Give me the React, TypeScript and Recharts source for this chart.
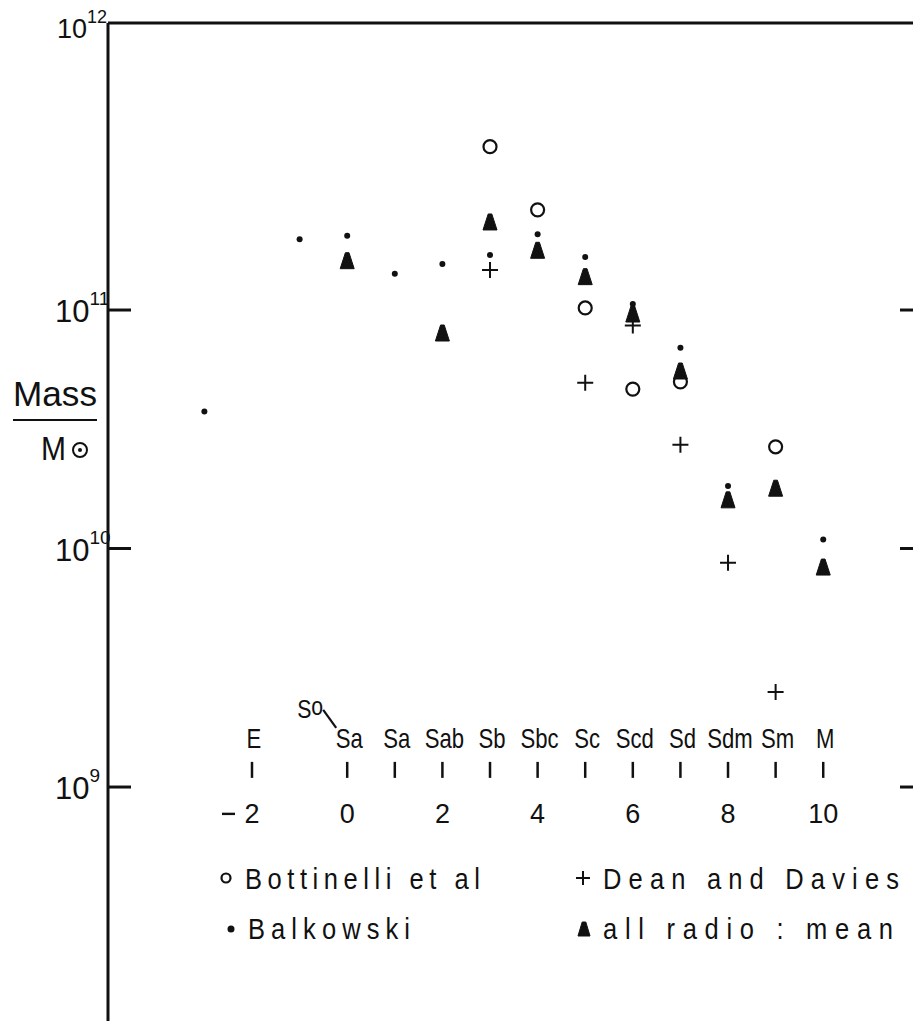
import { ScatterChart, Scatter, XAxis, YAxis, ReferenceLine } from 'recharts';

const FONT = '"Liberation Sans", Arial, sans-serif';
const INK = '#111';

// Hubble type sequence drawn along the lower part of the plot
const typeCodes = [-2, 0, 1, 2, 3, 4, 5, 6, 7, 8, 9, 10];
const typeNames = ['E', 'Sa', 'Sa', 'Sab', 'Sb', 'Sbc', 'Sc', 'Scd', 'Sd', 'Sdm', 'Sm', 'M'];
const typeNumbers = ['2', '0', '', '2', '', '4', '', '6', '', '8', '', '10'];
const typeRowMass = 1.18e9;

// Bottinelli et al (open circles)
const bottinelliT = [3, 4, 5, 6, 7, 9];
const bottinelliMass = [4.84e11, 2.63e11, 1.02e11, 4.66e10, 5.0e10, 2.67e10];

// Balkowski (dots)
const balkowskiT = [-3, -1, 0, 1, 2, 3, 4, 5, 6, 7, 8, 10];
const balkowskiMass = [
  3.75e10, 1.98e11, 2.05e11, 1.42e11, 1.56e11, 1.7e11, 2.08e11, 1.67e11, 1.06e11, 6.95e10,
  1.83e10, 1.09e10,
];

// Dean and Davies (plus signs)
const deanT = [3, 5, 6, 7, 8, 9];
const deanMass = [1.47e11, 4.96e10, 8.61e10, 2.72e10, 8.72e9, 2.5e9];

// all radio : mean (filled triangles)
const radioT = [0, 2, 3, 4, 5, 6, 7, 8, 9, 10];
const radioMass = [1.61e11, 8.01e10, 2.34e11, 1.78e11, 1.38e11, 9.62e10, 5.55e10, 1.6e10, 1.79e10, 8.36e9];

const massTicks = [1e9, 1e10, 1e11];
const massDomain = [Math.pow(10, 8.019), Math.pow(10, 12.2034)];
const typeDomain = [-5.025, 11.886];

const PLOT_RIGHT = 913;

const toPoints = (ts: number[], ms: number[]) => ts.map((t, i) => ({ t, mass: ms[i] }));

const typeRow = typeCodes.map((t, i) => ({
  t,
  mass: typeRowMass,
  name: typeNames[i],
  num: typeNumbers[i],
  negative: t < 0,
  prefix: t === 0,
}));

const OpenCircle = ({ cx, cy, r = 6.5 }: any) => (
  <circle cx={cx} cy={cy} r={r} fill="none" stroke={INK} strokeWidth={2.2} />
);
const Dot = ({ cx, cy, r = 3 }: any) => <circle cx={cx} cy={cy} r={r} fill={INK} />;
const Plus = ({ cx, cy, s = 8 }: any) => (
  <path d={`M${cx - s},${cy}H${cx + s}M${cx},${cy - s}V${cy + s}`} stroke={INK} strokeWidth={2} />
);
const Triangle = ({ cx, cy, w = 7, h = 8 }: any) => (
  <path
    d={`M${cx - 1.8},${cy - h} L${cx + 1.8},${cy - h} L${cx + w},${cy + h} L${cx - w},${cy + h} Z`}
    fill={INK}
    stroke={INK}
    strokeWidth={1}
    strokeLinejoin="round"
  />
);

const TypeTick = (props: any) => {
  const { cx, cy, payload } = props;
  return (
    <g fill={INK} fontFamily={FONT}>
      <line x1={cx} x2={cx} y1={cy - 8} y2={cy + 8} stroke={INK} strokeWidth={2.5} />
      {/* tall, condensed lettering */}
      <text
        transform={`translate(${cx + 2},${cy - 22}) scale(0.82,1)`}
        textAnchor="middle"
        fontSize={27}
      >
        {payload.name}
      </text>
      {payload.prefix && (
        <g>
          <text transform={`translate(${cx - 50},${cy - 52}) scale(0.85,1)`} fontSize={25}>
            S<tspan dy={-3}>o</tspan>
          </text>
          <line x1={cx - 24} y1={cy - 60} x2={cx - 11} y2={cy - 42} stroke={INK} strokeWidth={2.2} />
        </g>
      )}
      {payload.num && (
        <text x={cx} y={cy + 53} textAnchor="middle" fontSize={27}>
          {payload.num}
        </text>
      )}
      {payload.negative && (
        <line x1={cx - 30} x2={cx - 17} y1={cy + 44} y2={cy + 44} stroke={INK} strokeWidth={2.4} />
      )}
    </g>
  );
};

// left labels with inward ticks on both sides of the frame
const MassTick = ({ x, y, payload }: any) => {
  const exp = Math.round(Math.log10(payload.value));
  return (
    <g fontFamily={FONT} fill={INK}>
      <line x1={x} x2={x + 23} y1={y} y2={y} stroke={INK} strokeWidth={3} />
      <line x1={PLOT_RIGHT - 13} x2={PLOT_RIGHT} y1={y} y2={y} stroke={INK} strokeWidth={3} />
      <text x={55} y={y + 12} fontSize={31}>
        10
        <tspan fontSize={19} dy={-17}>
          {exp}
        </tspan>
      </text>
    </g>
  );
};

// key entry: condensed lettering stretched to the width seen in the figure
const KeyText = ({ x, y, width, children }: any) => (
  <text
    transform={`translate(${x},${y}) scale(0.85,1)`}
    fontSize={30}
    textLength={width / 0.85}
    lengthAdjust="spacing"
  >
    {children}
  </text>
);

export default function App() {
  return (
    <div style={{ position: 'absolute', left: 0, top: 0, width: 913, height: 1021, background: '#fff' }}>
      <ScatterChart width={913} height={1021} margin={{ top: 23, right: 0, bottom: 0, left: 0 }}>
        <XAxis type="number" dataKey="t" domain={typeDomain} allowDataOverflow hide height={0} />
        <YAxis
          yAxisId="l"
          type="number"
          dataKey="mass"
          scale="log"
          domain={massDomain}
          allowDataOverflow
          ticks={massTicks}
          interval={0}
          width={108}
          tickSize={0}
          tickMargin={0}
          tickLine={false}
          axisLine={{ stroke: INK, strokeWidth: 3 }}
          tick={<MassTick />}
        />
        <ReferenceLine yAxisId="l" y={massDomain[1]} stroke={INK} strokeWidth={3} ifOverflow="visible" />
        <Scatter yAxisId="l" data={typeRow} shape={TypeTick} isAnimationActive={false} />
        <Scatter yAxisId="l" data={toPoints(bottinelliT, bottinelliMass)} shape={OpenCircle} isAnimationActive={false} />
        <Scatter yAxisId="l" data={toPoints(deanT, deanMass)} shape={Plus} isAnimationActive={false} />
        <Scatter yAxisId="l" data={toPoints(radioT, radioMass)} shape={Triangle} isAnimationActive={false} />
        <Scatter yAxisId="l" data={toPoints(balkowskiT, balkowskiMass)} shape={Dot} isAnimationActive={false} />
      </ScatterChart>

      {/* axis title, top label and key */}
      <svg
        width={913}
        height={1021}
        style={{ position: 'absolute', left: 0, top: 0, pointerEvents: 'none' }}
        fontFamily={FONT}
        fill={INK}
      >
        <text x={57} y={38} fontSize={27}>
          10
          <tspan fontSize={18} dy={-15}>
            12
          </tspan>
        </text>

        <text x={13} y={406} fontSize={35} textLength={84} lengthAdjust="spacingAndGlyphs">
          Mass
        </text>
        <line x1={13} x2={97} y1={420} y2={420} stroke={INK} strokeWidth={2} />
        <text x={41} y={460} fontSize={34} textLength={25} lengthAdjust="spacingAndGlyphs">
          M
        </text>
        <circle cx={80} cy={450} r={7} fill="none" stroke={INK} strokeWidth={2} />
        <circle cx={80} cy={450} r={2} fill={INK} />

        <OpenCircle cx={226} cy={878} r={4.5} />
        <KeyText x={245} y={889} width={235}>Bottinelli et al</KeyText>
        <Plus cx={583} cy={878} s={7} />
        <KeyText x={603} y={889} width={296}>Dean and Davies</KeyText>
        <Dot cx={231} cy={929} r={3.5} />
        <KeyText x={248} y={939} width={162}>Balkowski</KeyText>
        <Triangle cx={584} cy={929} w={6} h={7} />
        <KeyText x={603} y={939} width={290}>all radio : mean</KeyText>
      </svg>
    </div>
  );
}
